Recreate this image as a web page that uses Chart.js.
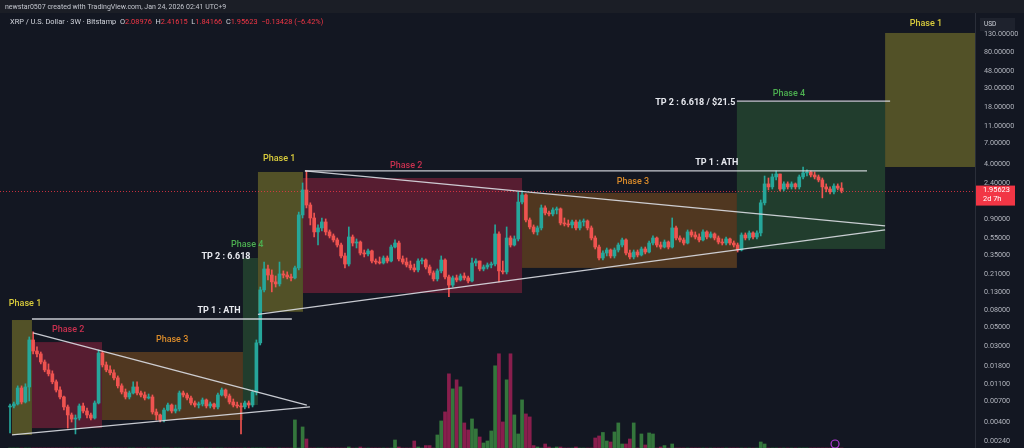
<!DOCTYPE html>
<html>
<head>
<meta charset="utf-8">
<script src="https://cdn.jsdelivr.net/npm/chart.js@4.4.1/dist/chart.umd.min.js"></script>
<style>
  html, body { margin: 0; padding: 0; background: #131722; overflow: hidden; }
  #wrap { width: 1024px; height: 448px; }
</style>
</head>
<body>
<div id="wrap"><canvas id="c" width="1024" height="448"></canvas></div>
<script>
// XRP / USD, 3W candles (Bitstamp)
// open of each candle = close of the one before it
var firstOpen = 0.00597;

var closes = [
  0.00613, 0.00647, 0.00992, 0.00682, 0.0102, 0.0359, 0.0267, 0.0247, 0.0199, 0.0161,
  0.0145, 0.0117, 0.0094, 0.0078, 0.00597, 0.00482, 0.00432, 0.00444, 0.00613, 0.00536,
  0.00482, 0.00444, 0.00664, 0.0253, 0.0184, 0.0161, 0.0149, 0.0130, 0.0105, 0.00891,
  0.0078, 0.00868, 0.0102, 0.00868, 0.00823, 0.00759, 0.0078, 0.00522, 0.00482, 0.00421,
  0.0055, 0.00629, 0.00536, 0.00565, 0.00868, 0.00823, 0.00759, 0.00664, 0.00629, 0.00647,
  0.0072, 0.00613, 0.00647, 0.00597, 0.00823, 0.0094, 0.00801, 0.00682, 0.00629, 0.00613,
  0.00597, 0.00664, 0.00629, 0.00891, 0.0332, 0.137, 0.240, 0.204, 0.170, 0.161,
  0.210, 0.204, 0.194, 0.189, 0.247, 1.02, 1.99, 1.33, 0.94, 0.647,
  0.72, 0.845, 0.647, 0.581, 0.522, 0.456, 0.34, 0.274, 0.565, 0.481,
  0.494, 0.368, 0.359, 0.389, 0.297, 0.289, 0.282, 0.322, 0.297, 0.432,
  0.481, 0.314, 0.289, 0.267, 0.247, 0.234, 0.297, 0.305, 0.253, 0.216,
  0.184, 0.228, 0.305, 0.194, 0.156, 0.189, 0.179, 0.199, 0.189, 0.174,
  0.282, 0.297, 0.240, 0.253, 0.267, 0.274, 0.613, 0.228, 0.222, 0.55,
  0.456, 0.536, 1.44, 1.74, 0.891, 0.739, 0.647, 0.72, 1.23, 1.075,
  1.047, 1.165, 1.20, 0.823, 0.801, 0.78, 0.845, 0.72, 0.845, 0.868,
  0.72, 0.55, 0.432, 0.322, 0.368, 0.399, 0.34, 0.399, 0.456, 0.522,
  0.368, 0.331, 0.378, 0.349, 0.41, 0.378, 0.481, 0.55, 0.456, 0.432,
  0.494, 0.432, 0.72, 0.55, 0.522, 0.481, 0.647, 0.596, 0.565, 0.522,
  0.647, 0.565, 0.613, 0.55, 0.494, 0.481, 0.536, 0.481, 0.456, 0.399,
  0.596, 0.55, 0.63, 0.565, 0.63, 1.41, 2.34, 2.16, 2.82, 3.05,
  2.04, 2.34, 2.16, 2.34, 2.16, 2.82, 3.14, 3.22, 2.97, 2.82,
  2.60, 2.16, 2.04, 1.89, 2.21, 2.08976, 1.95623
];

var highs = [
  0.00647, 0.00682, 0.0105, 0.0105, 0.0111, 0.0389, 0.0445, 0.0298, 0.026, 0.021,
  0.0189, 0.0157, 0.0123, 0.0102, 0.00801, 0.00629, 0.00508, 0.00482, 0.00647, 0.00664,
  0.00581, 0.00508, 0.00701, 0.0274, 0.0267, 0.0199, 0.0179, 0.0161, 0.0137, 0.0111,
  0.00966, 0.00915, 0.0117, 0.0117, 0.00915, 0.00891, 0.00845, 0.00823, 0.00565, 0.00494,
  0.00581, 0.00664, 0.00647, 0.00629, 0.00915, 0.00915, 0.00868, 0.00801, 0.00701, 0.00682,
  0.00759, 0.00739, 0.00682, 0.00664, 0.00868, 0.00992, 0.00966, 0.00845, 0.00739, 0.00682,
  0.00664, 0.00701, 0.00701, 0.0094, 0.0359, 0.148, 0.289, 0.267, 0.234, 0.199,
  0.289, 0.228, 0.222, 0.21, 0.26, 1.10, 2.40, 3.31, 1.41, 1.075,
  0.78, 0.94, 0.916, 0.682, 0.613, 0.55, 0.481, 0.368, 0.739, 0.596,
  0.536, 0.508, 0.399, 0.41, 0.399, 0.314, 0.331, 0.34, 0.34, 0.456,
  0.522, 0.508, 0.34, 0.322, 0.297, 0.274, 0.314, 0.322, 0.314, 0.267,
  0.228, 0.24, 0.34, 0.314, 0.204, 0.199, 0.204, 0.21, 0.216, 0.199,
  0.322, 0.314, 0.297, 0.267, 0.282, 0.289, 0.78, 0.647, 0.297, 0.739,
  0.581, 0.581, 1.89, 1.94, 1.79, 0.94, 0.78, 0.759, 1.33, 1.30,
  1.134, 1.23, 1.26, 1.23, 0.94, 0.891, 0.891, 0.891, 0.891, 0.916,
  0.891, 0.759, 0.581, 0.456, 0.389, 0.421, 0.41, 0.421, 0.481, 0.55,
  0.536, 0.399, 0.399, 0.399, 0.432, 0.432, 0.508, 0.581, 0.565, 0.494,
  0.522, 0.508, 0.94, 0.759, 0.581, 0.55, 0.682, 0.682, 0.647, 0.613,
  0.682, 0.664, 0.647, 0.63, 0.581, 0.536, 0.565, 0.55, 0.508, 0.481,
  0.63, 0.63, 0.664, 0.647, 0.664, 1.52, 2.89, 2.74, 3.05, 3.31,
  3.05, 2.47, 2.47, 2.47, 2.40, 2.97, 3.66, 3.40, 3.31, 3.22,
  2.97, 2.74, 2.34, 2.16, 2.34, 2.34, 2.41615
];

var lows = [
  0.00298, 0.00581, 0.00629, 0.00647, 0.00664, 0.00701, 0.0247, 0.0228, 0.0189, 0.0153,
  0.0137, 0.0111, 0.00891, 0.00739, 0.0055, 0.00339, 0.00399, 0.0029, 0.00421, 0.00508,
  0.00444, 0.00421, 0.00432, 0.00647, 0.0174, 0.0153, 0.0141, 0.0123, 0.00992, 0.00845,
  0.00739, 0.00739, 0.00845, 0.00823, 0.0078, 0.0072, 0.00739, 0.00494, 0.00421, 0.00399,
  0.00399, 0.00536, 0.00508, 0.00508, 0.00536, 0.0078, 0.0072, 0.00629, 0.00597, 0.00581,
  0.00613, 0.00581, 0.00581, 0.00565, 0.00565, 0.00801, 0.00759, 0.00647, 0.00597, 0.00581,
  0.0029, 0.00565, 0.00581, 0.00597, 0.00823, 0.0314, 0.13, 0.179, 0.13, 0.148,
  0.152, 0.189, 0.184, 0.174, 0.184, 0.234, 0.94, 1.23, 0.78, 0.565,
  0.456, 0.664, 0.596, 0.55, 0.494, 0.432, 0.322, 0.247, 0.26, 0.444,
  0.421, 0.349, 0.331, 0.34, 0.282, 0.274, 0.274, 0.274, 0.282, 0.289,
  0.421, 0.297, 0.274, 0.253, 0.234, 0.222, 0.222, 0.274, 0.24, 0.204,
  0.174, 0.174, 0.216, 0.184, 0.114, 0.148, 0.17, 0.174, 0.179, 0.165,
  0.17, 0.26, 0.228, 0.228, 0.24, 0.247, 0.26, 0.17, 0.21, 0.21,
  0.432, 0.444, 0.508, 1.37, 0.845, 0.701, 0.613, 0.596, 0.682, 1.019,
  0.992, 0.992, 1.047, 0.78, 0.759, 0.739, 0.72, 0.682, 0.682, 0.759,
  0.682, 0.522, 0.41, 0.305, 0.305, 0.34, 0.322, 0.322, 0.378, 0.432,
  0.349, 0.314, 0.314, 0.331, 0.34, 0.359, 0.368, 0.456, 0.432, 0.41,
  0.421, 0.41, 0.421, 0.522, 0.494, 0.456, 0.469, 0.565, 0.536, 0.494,
  0.508, 0.536, 0.55, 0.522, 0.469, 0.456, 0.456, 0.456, 0.432, 0.378,
  0.389, 0.522, 0.522, 0.536, 0.536, 0.581, 1.33, 1.99, 2.04, 2.60,
  1.94, 1.94, 2.04, 2.04, 2.04, 2.04, 2.67, 2.89, 2.82, 2.67,
  2.47, 1.61, 1.89, 1.79, 1.79, 1.99, 1.84166
];

// volume (relative units), mostly too small to show
var volumes = [
  0, 0, 0, 0, 0, 0, 0, 0, 0, 0,
  0, 0, 0, 0, 0, 0, 0, 0, 0, 0,
  0, 0, 0, 0, 0, 0, 0, 0, 0, 0,
  0, 0, 0, 0, 0, 0, 0, 0, 0, 0,
  0, 0, 0, 0, 0, 0, 0, 0, 0, 0,
  0, 0, 0, 0, 0, 0, 0, 0, 0, 0,
  0, 0, 0, 0, 0, 0, 0, 0, 0, 0,
  0, 0, 0, 0, 280, 0, 210, 90, 0, 0,
  0, 0, 0, 0, 0, 0, 0, 0, 10, 0,
  0, 10, 0, 0, 0, 0, 0, 0, 0, 0,
  80, 10, 0, 0, 0, 70, 10, 0, 24, 24,
  0, 130, 270, 360, 740, 590, 680, 610, 250, 180,
  290, 190, 110, 50, 70, 170, 820, 940, 260, 680,
  940, 330, 140, 480, 340, 310, 24, 10, 0, 40,
  10, 0, 10, 10, 0, 0, 0, 10, 0, 0,
  0, 0, 100, 120, 155, 70, 60, 160, 250, 40,
  40, 90, 250, 0, 140, 30, 150, 140, 0, 10,
  24, 0, 40, 0, 0, 0, 0, 0, 0, 0,
  0, 0, 0, 0, 0, 0, 0, 0, 0, 0,
  0, 0, 0, 0, 0, 60, 40, 0, 0, 0,
  0, 0, 0, 0, 0, 0, 0, 0, 0, 0,
  0, 0, 0, 0, 0, 0, 0
];

var priceTicks = [0.0024, 0.004, 0.007, 0.011, 0.018, 0.03, 0.05, 0.08, 0.13, 0.21, 0.35, 0.55,
                  0.9, 2.4, 4, 7, 11, 18, 30, 48, 80, 130];

// drawings: boxes, lines and labels placed by candle index and price
var phaseBoxes = [
  { phase: 1, from: 0.5, to: 5.7, hi: 0.0612, lo: 0.00282 },
  { phase: 2, from: 5.7, to: 23.9, hi: 0.0339, lo: 0.00339 },
  { phase: 3, from: 23.9, to: 60.5, hi: 0.026, lo: 0.00421 },
  { phase: 4, from: 60.5, to: 64.4, hi: 0.322, lo: 0.00629 },
  { phase: 1, from: 64.4, to: 76.1, hi: 3.22, lo: 0.0763 },
  { phase: 2, from: 76.1, to: 133, hi: 2.74, lo: 0.126 },
  { phase: 3, from: 133, to: 188.8, hi: 1.84, lo: 0.247 },
  { phase: 4, from: 188.8, to: 227.3, hi: 21.0, lo: 0.41 },
  { phase: 1, from: 227.3, to: 251, hi: 133, lo: 3.68 }
];
var flatLines = [
  { from: 5.7, to: 73.2, price: 0.0629 },
  { from: 76.6, to: 222.6, price: 3.31 },
  { from: 188.8, to: 228.6, price: 21.5 }
];
var trendLines = [
  { i0: 5.97, p0: 0.0433, i1: 77.1, p1: 0.00629 },
  { i0: 0.52, p0: 0.00282, i1: 77.9, p1: 0.00597 },
  { i0: 76.6, p0: 3.31, i1: 227.3, p1: 0.759 },
  { i0: 64.4, p0: 0.0713, i1: 227.3, p1: 0.682 }
];
var phaseLabels = [
  { text: 'Phase 1', at: -0.3, price: 0.094, phase: 1, align: 'left' },
  { text: 'Phase 2', at: 15.1, price: 0.0469, phase: 2 },
  { text: 'Phase 3', at: 42.1, price: 0.0359, phase: 3 },
  { text: 'Phase 4', at: 61.6, price: 0.456, phase: 4 },
  { text: 'Phase 1', at: 69.9, price: 4.56, phase: 1 },
  { text: 'Phase 2', at: 102.9, price: 3.78, phase: 2 },
  { text: 'Phase 3', at: 161.8, price: 2.47, phase: 3 },
  { text: 'Phase 4', at: 202.3, price: 26.1, phase: 4 },
  { text: 'Phase 1', at: 237.9, price: 169, phase: 1 }
];
var tpLabels = [
  { text: 'TP 1 : ATH', at: 54.3, price: 0.078 },
  { text: 'TP 2 : 6.618', at: 56.1, price: 0.331 },
  { text: 'TP 1 : ATH', at: 183.6, price: 4.1 },
  { text: 'TP 2 : 6.618 / $21.5', at: 178.0, price: 20.4 }
];

var phaseFill = { 1: 'rgba(200,190,50,0.35)', 2: 'rgba(220,40,80,0.34)', 3: 'rgba(240,140,30,0.28)', 4: 'rgba(76,175,80,0.25)' };
var phaseText = { 1: '#d9cc3c', 2: '#c9304f', 3: '#d98b2b', 4: '#4caf50' };
var UP = '#26a69a', DOWN = '#ef5350';

var bodyData = [], wickData = [], volData = [], bodyCol = [], volCol = [];
closes.forEach(function (c, i) {
  var o = i === 0 ? firstOpen : closes[i - 1];
  var up = c >= o;
  bodyData.push({ x: i, y: [Math.min(o, c), Math.max(o, c)] });
  wickData.push({ x: i, y: [lows[i], highs[i]] });
  volData.push({ x: i, y: volumes[i] });
  bodyCol.push(up ? UP : DOWN);
  volCol.push(up ? 'rgba(67,160,71,0.7)' : 'rgba(178,34,92,0.75)');
});

var bgPlugin = {
  id: 'bg',
  beforeDraw: function (chart) {
    var ctx = chart.ctx;
    ctx.save();
    ctx.fillStyle = '#131722';
    ctx.fillRect(0, 0, chart.width, chart.height);
    ctx.restore();
  }
};

var drawPlugin = {
  id: 'tvDraw',
  beforeDatasetsDraw: function (chart) {
    var ctx = chart.ctx, a = chart.chartArea, xs = chart.scales.x, ys = chart.scales.y;
    ctx.save();
    ctx.beginPath();
    ctx.rect(a.left, a.top, a.right - a.left, a.bottom - a.top);
    ctx.clip();
    phaseBoxes.forEach(function (b) {
      var x0 = xs.getPixelForValue(b.from), x1 = xs.getPixelForValue(b.to);
      var y0 = ys.getPixelForValue(b.hi), y1 = ys.getPixelForValue(b.lo);
      ctx.fillStyle = phaseFill[b.phase];
      ctx.fillRect(x0, y0, x1 - x0, y1 - y0);
    });
    // last price line
    var py = Math.round(ys.getPixelForValue(closes[closes.length - 1])) + 0.5;
    ctx.strokeStyle = 'rgba(242,54,69,0.8)';
    ctx.lineWidth = 1;
    ctx.setLineDash([1, 2]);
    ctx.beginPath();
    ctx.moveTo(a.left, py);
    ctx.lineTo(a.right, py);
    ctx.stroke();
    ctx.restore();
  },
  afterDatasetsDraw: function (chart) {
    var ctx = chart.ctx, a = chart.chartArea, xs = chart.scales.x, ys = chart.scales.y;
    ctx.save();
    ctx.beginPath();
    ctx.rect(a.left, a.top, a.right - a.left, a.bottom - a.top);
    ctx.clip();
    ctx.strokeStyle = 'rgba(220,222,228,0.9)';
    ctx.lineWidth = 1.3;
    flatLines.forEach(function (l) {
      var y = ys.getPixelForValue(l.price);
      ctx.beginPath();
      ctx.moveTo(xs.getPixelForValue(l.from), y);
      ctx.lineTo(xs.getPixelForValue(l.to), y);
      ctx.stroke();
    });
    trendLines.forEach(function (l) {
      ctx.beginPath();
      ctx.moveTo(xs.getPixelForValue(l.i0), ys.getPixelForValue(l.p0));
      ctx.lineTo(xs.getPixelForValue(l.i1), ys.getPixelForValue(l.p1));
      ctx.stroke();
    });
    ctx.textBaseline = 'middle';
    ctx.font = '500 9px Roboto';
    phaseLabels.forEach(function (t) {
      ctx.fillStyle = phaseText[t.phase];
      ctx.textAlign = t.align || 'center';
      ctx.fillText(t.text, xs.getPixelForValue(t.at), ys.getPixelForValue(t.price));
    });
    ctx.font = 'bold 9px Roboto';
    ctx.fillStyle = '#e6e8ee';
    ctx.textAlign = 'center';
    tpLabels.forEach(function (t) {
      ctx.fillText(t.text, xs.getPixelForValue(t.at), ys.getPixelForValue(t.price));
    });
    // event marker near the last candles
    ctx.strokeStyle = '#b03ad6';
    ctx.lineWidth = 1.2;
    ctx.beginPath();
    ctx.arc(xs.getPixelForValue(214.3), 444, 4, 0, Math.PI * 2);
    ctx.stroke();
    ctx.restore();
  },
  afterDraw: function (chart) {
    var ctx = chart.ctx, a = chart.chartArea, ys = chart.scales.y;
    ctx.save();
    // header strip
    ctx.fillStyle = '#1b1e26';
    ctx.fillRect(0, 0, chart.width, 13);
    ctx.fillStyle = '#c3c6ce';
    ctx.font = '7px Roboto';
    ctx.textBaseline = 'middle';
    ctx.textAlign = 'left';
    ctx.fillText('newstar0507 created with TradingView.com, Jan 24, 2026 02:41 UTC+9', 5, 7);

    // legend line
    var parts = [
      ['XRP / U.S. Dollar \u00b7 3W \u00b7 Bitstamp  ', '#d1d4dc'],
      ['O', '#d1d4dc'], ['2.08976  ', '#f23645'],
      ['H', '#d1d4dc'], ['2.41615  ', '#f23645'],
      ['L', '#d1d4dc'], ['1.84166  ', '#f23645'],
      ['C', '#d1d4dc'], ['1.95623  ', '#f23645'],
      ['\u22120.13428 (\u22126.42%)', '#f23645']
    ];
    var x = 10;
    ctx.font = '7.4px Roboto';
    parts.forEach(function (p) {
      ctx.fillStyle = p[1];
      ctx.fillText(p[0], x, 22);
      x += ctx.measureText(p[0]).width;
    });

    // price axis border
    ctx.strokeStyle = '#2a2e39';
    ctx.lineWidth = 1;
    ctx.beginPath();
    ctx.moveTo(a.right + 0.5, 13);
    ctx.lineTo(a.right + 0.5, chart.height);
    ctx.stroke();

    // USD box
    ctx.fillStyle = '#1e222d';
    ctx.fillRect(980, 18, 35, 13);
    ctx.fillStyle = '#d1d4dc';
    ctx.font = '6.5px Roboto';
    ctx.fillText('USD', 984, 24.5);

    // last price tag
    var py = ys.getPixelForValue(closes[closes.length - 1]);
    ctx.fillStyle = '#f23645';
    ctx.fillRect(a.right + 1, py - 5, 39, 20);
    ctx.fillStyle = '#ffffff';
    ctx.font = '7.4px Roboto';
    ctx.fillText(closes[closes.length - 1].toFixed(5), a.right + 8, py);
    ctx.fillText('2d 7h', a.right + 8, py + 9);
    ctx.restore();
  }
};

Chart.defaults.font.family = 'Roboto';

new Chart(document.getElementById('c'), {
  type: 'bar',
  data: {
    datasets: [
      { data: bodyData, backgroundColor: bodyCol, barThickness: 3, minBarLength: 1, grouped: false, yAxisID: 'y', order: 1 },
      { data: wickData, backgroundColor: bodyCol, barThickness: 1, grouped: false, yAxisID: 'y', order: 2 },
      { data: volData, backgroundColor: volCol, barThickness: 3, grouped: false, yAxisID: 'v', order: 3 }
    ]
  },
  options: {
    responsive: false,
    animation: false,
    devicePixelRatio: 1,
    layout: { padding: { top: 13, left: 0, right: 0, bottom: 0 } },
    plugins: { legend: { display: false }, tooltip: { enabled: false } },
    scales: {
      x: { type: 'linear', min: -2.6, max: 250.65, display: false, offset: false },
      y: {
        type: 'logarithmic',
        position: 'right',
        min: 0.00199,
        max: 227,
        grid: { display: false, drawTicks: false },
        border: { display: false },
        afterBuildTicks: function (s) { s.ticks = priceTicks.map(function (v) { return { value: v }; }); },
        afterFit: function (s) {
          s.width = 49;
          // no label overhang: plot area runs to the top and bottom edges
          s.paddingTop = 0;
          s.paddingBottom = 0;
        },
        ticks: {
          autoSkip: false,
          padding: 9,
          color: '#b2b5be',
          font: { size: 7.2 },
          callback: function (v) { return Number(v).toFixed(5); }
        }
      },
      v: { type: 'linear', min: 0, max: 4340, display: false }
    }
  },
  plugins: [bgPlugin, drawPlugin]
});
</script>
</body>
</html>
